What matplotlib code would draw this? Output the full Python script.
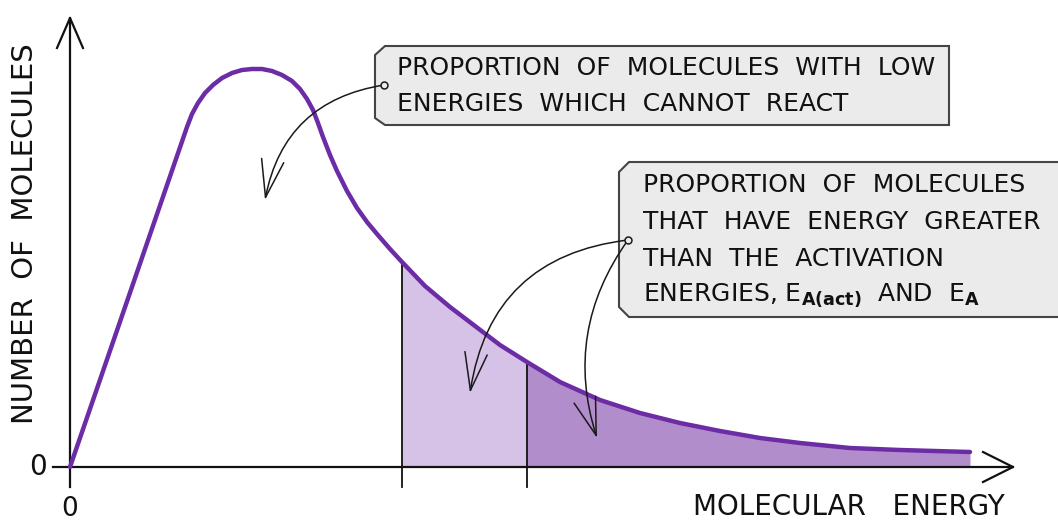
import matplotlib
matplotlib.use("Agg")
import matplotlib.pyplot as plt
import numpy as np
from matplotlib.patches import Polygon, FancyArrowPatch

# ---- data (energy units, number units) ----
energy = [0.00, 1.17, 1.22, 1.28, 1.35, 1.43, 1.52, 1.62, 1.72, 1.82, 1.92,
          2.02, 2.12, 2.22, 2.30, 2.37, 2.43, 2.48, 2.53, 2.60, 2.67, 2.77,
          2.87, 2.97, 3.07, 3.20, 3.32, 3.55, 3.80, 4.05, 4.30, 4.57, 4.90,
          5.30, 5.70, 6.10, 6.50, 6.90, 7.30, 7.80, 8.30, 9.00]
number = [0.00, 3.40, 3.53, 3.64, 3.74, 3.82, 3.89, 3.94, 3.97, 3.98, 3.98,
          3.96, 3.92, 3.86, 3.78, 3.68, 3.57, 3.44, 3.30, 3.12, 2.96, 2.76,
          2.59, 2.45, 2.33, 2.18, 2.05, 1.81, 1.60, 1.41, 1.22, 1.05, 0.85,
          0.67, 0.54, 0.44, 0.36, 0.29, 0.24, 0.19, 0.17, 0.15]
ea_catalysed = 3.32
ea_uncatalysed = 4.57

x_label = "MOLECULAR   ENERGY"
y_label = "NUMBER  OF  MOLECULES"
note_low = ["PROPORTION  OF  MOLECULES  WITH  LOW",
            "ENERGIES  WHICH  CANNOT  REACT"]
note_high = ["PROPORTION  OF  MOLECULES",
             "THAT  HAVE  ENERGY  GREATER",
             "THAN  THE  ACTIVATION",
             r"ENERGIES, E$_{\mathbf{A(act)}}$  AND  E$_{\mathbf{A}}$"]

# ---- styling ----
CURVE = "#6c2ca6"
LIGHT = "#d6c2e6"
DARK = "#b28dcb"
INK = "#111111"
plt.rcParams['font.family'] = ['DejaVu Sans']

fig = plt.figure(figsize=(10.58, 5.21), dpi=100)
ax = fig.add_axes([0, 0, 1, 1])
ax.set_xlim(-0.70, 9.88)
ax.set_ylim(-0.54, 4.67)
ax.axis("off")

e = np.array(energy)
n = np.array(number)

# shaded regions
m1 = (e >= ea_catalysed) & (e <= ea_uncatalysed)
ax.fill_between(e[m1], 0, n[m1], color=LIGHT, lw=0, zorder=1)
m2 = e >= ea_uncatalysed
ax.fill_between(e[m2], 0, n[m2], color=DARK, lw=0, zorder=1)

# curve
ax.plot(e, n, color=CURVE, lw=3.2, solid_capstyle="round", solid_joinstyle="round", zorder=4)

# activation energy lines
for ea in (ea_catalysed, ea_uncatalysed):
    top = np.interp(ea, e, n)
    ax.plot([ea, ea], [-0.20, top], color=INK, lw=1.3, zorder=3)

# axes with arrows
ax.plot([0, 0], [-0.20, 4.49], color=INK, lw=1.6, zorder=3)
ax.plot([-0.13, 0, 0.13], [4.19, 4.49, 4.19], color=INK, lw=1.6, zorder=3)
ax.plot([-0.17, 9.43], [0, 0], color=INK, lw=1.6, zorder=3)
ax.plot([9.13, 9.43, 9.13], [0.15, 0, -0.15], color=INK, lw=1.6, zorder=3)

# axis labels
ax.text(-0.32, 0, "0", fontsize=20, ha="center", va="center", color=INK)
ax.text(0, -0.42, "0", fontsize=19, ha="center", va="center", color=INK)
ax.text(-0.45, 2.33, y_label, fontsize=21, rotation=90, ha="center", va="center", color=INK)
ax.text(7.79, -0.40, x_label, fontsize=20, ha="center", va="center", color=INK)

# annotation boxes
box1 = [(3.15, 4.21), (8.79, 4.21), (8.79, 3.42), (3.15, 3.42), (3.05, 3.49), (3.05, 4.12)]
box2 = [(5.59, 3.05), (9.95, 3.05), (9.95, 1.50), (5.59, 1.50), (5.49, 1.60), (5.49, 2.95)]
for b in (box1, box2):
    ax.add_patch(Polygon(b, closed=True, facecolor="#ebebeb", edgecolor="#444444", lw=1.5, zorder=5))

for i, line in enumerate(note_low):
    ax.text(3.27, 3.99 - i * 0.36, line, fontsize=18, ha="left", va="center", color=INK, zorder=6)
for i, line in enumerate(note_high):
    ax.text(5.73, 2.82 - i * 0.37, line, fontsize=18, ha="left", va="center", color=INK, zorder=6)

# curved arrows
def arrow(p0, p1, rad):
    a = FancyArrowPatch(p0, p1, connectionstyle=f"arc3,rad={rad}",
                        arrowstyle="->,head_length=1.5,head_width=0.45",
                        mutation_scale=18, color="#1a1a1a", lw=1.1, zorder=6,
                        shrinkA=0, shrinkB=0)
    ax.add_patch(a)

arrow((3.14, 3.82), (1.95, 2.67), 0.35)
arrow((5.58, 2.27), (4.00, 0.74), 0.38)
arrow((5.58, 2.27), (5.27, 0.29), 0.25)

ax.plot([3.14], [3.82], marker="o", ms=5, mfc="#ebebeb", mec="#1a1a1a", mew=1.1, zorder=7)
ax.plot([5.58], [2.27], marker="o", ms=5, mfc="#ebebeb", mec="#1a1a1a", mew=1.1, zorder=7)

fig.savefig("out.png", dpi=100)
